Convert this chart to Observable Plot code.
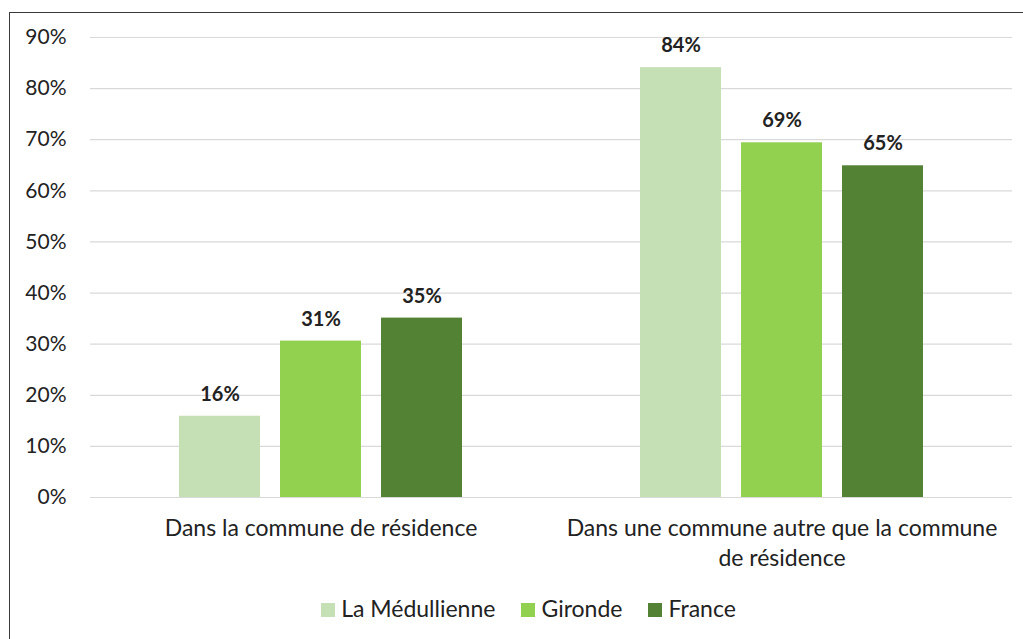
<!DOCTYPE html>
<html>
<head>
<meta charset="utf-8">
<script src="https://cdn.jsdelivr.net/npm/d3@7"></script>
<script src="https://cdn.jsdelivr.net/npm/@observablehq/plot@0.6"></script>
<style>
  body { margin: 0; background: #fff; font-family: Lato, "Open Sans", sans-serif; }
  #frame { position: absolute; left: 9px; top: 12px; width: 1100px; height: 700px; border-left: 1.5px solid #3a3a3a; border-top: 1.5px solid #3a3a3a; pointer-events: none; }
  #chart { position: absolute; left: 0; top: 0; }
  #legend { position: absolute; left: 17px; top: 592px; width: 1023px; display: flex; justify-content: center; gap: 26px; font-size: 23px; color: #222; line-height: 32px; }
  #legend span.sw { display: inline-block; width: 14px; height: 14px; margin-right: 6px; vertical-align: 0px; }
</style>
</head>
<body>
<div id="chart"></div>
<div id="legend"></div>
<div id="frame"></div>
<script>
const categories = ["Dans la commune de résidence", "Dans une commune autre que la commune de résidence"];
const categoryLabels = ["Dans la commune de résidence", "Dans une commune autre que la commune\nde résidence"];
const series = ["La Médullienne", "Gironde", "France"];
const colors = ["#c5e0b4", "#92d050", "#548235"];
const valuesMedullienne = [15.9, 84.1];
const valuesGironde = [30.6, 69.4];
const valuesFrance = [35.1, 64.9];
const yTicks = [0, 10, 20, 30, 40, 50, 60, 70, 80, 90];

const seriesValues = [valuesMedullienne, valuesGironde, valuesFrance];
const data = [];
categories.forEach((c, i) => series.forEach((s, j) => data.push({category: c, series: s, value: seriesValues[j][i]})));

const chart = Plot.plot({
  width: 1023,
  height: 590,
  marginTop: 37,
  marginBottom: 93,
  marginLeft: 90,
  marginRight: 11,
  style: {fontFamily: "Lato, 'Open Sans', sans-serif", fontSize: "22px", color: "#222", overflow: "visible"},
  fx: {domain: categories, padding: 0, label: null, axis: null},
  x: {domain: series, paddingInner: 0.2, paddingOuter: 0.86, axis: null},
  y: {domain: [0, 90], ticks: yTicks, label: null},
  color: {domain: series, range: colors},
  marks: [
    Plot.gridY(yTicks, {stroke: "#d9d9d9", strokeOpacity: 1, strokeWidth: 1.2}),
    Plot.axisY(yTicks, {tickFormat: d => d + "%", tickSize: 0, tickPadding: 24, fontSize: 21, fill: "#222"}),
    Plot.barY(data, {fx: "category", x: "series", y: "value", fill: "series"}),
    Plot.text(data, {fx: "category", x: "series", y: "value", text: d => Math.round(d.value) + "%", dy: -22, fontWeight: "bold", fontSize: 20, fill: "#222"}),
    Plot.axisFx({anchor: "bottom", tickSize: 0, tickPadding: 17, fontSize: 23, fill: "#222", lineHeight: 1.3, tickFormat: d => categoryLabels[categories.indexOf(d)]})
  ]
});
document.getElementById("chart").append(chart);

const legend = document.getElementById("legend");
series.forEach((s, j) => {
  const item = document.createElement("div");
  item.innerHTML = `<span class="sw" style="background:${colors[j]}"></span>${s}`;
  legend.append(item);
});
</script>
</body>
</html>
